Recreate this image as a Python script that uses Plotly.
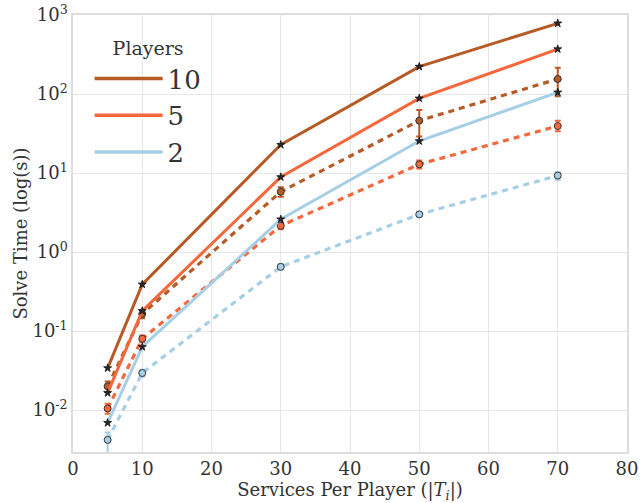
import plotly.graph_objects as go

services = [5, 10, 30, 50, 70]
players = ["10", "5", "2"]
colors = {"10": "#b65a26", "5": "#f4683c", "2": "#a6cfe6"}

# Solid lines (star markers)
solid = {
    "10": [0.034, 0.39, 22.8, 222, 785],
    "5": [0.0165, 0.18, 8.9, 88, 370],
    "2": [0.0069, 0.063, 2.6, 25.4, 105],
}
# Dashed lines (circle markers with error bars)
dashed = {
    "10": [0.020, 0.165, 5.8, 46, 155],
    "5": [0.0105, 0.080, 2.15, 12.9, 39.4],
    "2": [0.0042, 0.0295, 0.65, 3.0, 9.3],
}
err_plus = {
    "10": [0.003, 0.02, 0.8, 17, 60],
    "5": [0.0015, 0.008, 0.2, 1.5, 6.5],
    "2": [0.001, 0.003, 0.05, 0.2, 0.9],
}
err_minus = {
    "10": [0.003, 0.02, 0.8, 17, 61],
    "5": [0.0015, 0.008, 0.2, 1.5, 5.5],
    "2": [0.003, 0.003, 0.05, 0.2, 1.1],
}

ytick_vals = [1e-2, 1e-1, 1e0, 1e1, 1e2, 1e3]
ytick_text = ["10<sup>-2</sup>", "10<sup>-1</sup>", "10<sup>0</sup>",
              "10<sup>1</sup>", "10<sup>2</sup>", "10<sup>3</sup>"]
xtick_vals = [0, 10, 20, 30, 40, 50, 60, 70, 80]

FONT = "DejaVu Serif"
fig = go.Figure()

for p in players:
    fig.add_trace(go.Scatter(
        x=services, y=dashed[p], mode="lines+markers",
        line=dict(color=colors[p], width=3.2, dash="6px,5px"),
        marker=dict(symbol="circle", size=7, color=colors[p],
                    line=dict(color="#333333", width=1)),
        error_y=dict(type="data", symmetric=False, array=err_plus[p],
                     arrayminus=err_minus[p], color=colors[p],
                     thickness=2, width=3),
        showlegend=False,
    ))

for p in players:
    fig.add_trace(go.Scatter(
        x=services, y=solid[p], mode="lines+markers", name=p,
        line=dict(color=colors[p], width=3),
        marker=dict(symbol="star", size=6, color="#2a2a2a",
                    line=dict(color="#111111", width=0.8)),
        showlegend=False,
    ))

# legend-only line entries
for p in players:
    fig.add_trace(go.Scatter(
        x=[None], y=[None], mode="lines", name=p,
        line=dict(color=colors[p], width=3.5),
    ))

fig.update_layout(
    width=640, height=503, autosize=False,
    margin=dict(l=73, r=13, t=15, b=51),
    paper_bgcolor="white", plot_bgcolor="white",
    font=dict(family=FONT, size=18, color="#333333"),
    legend=dict(
        x=0.03, y=0.965, xanchor="left", yanchor="top",
        bgcolor="rgba(0,0,0,0)",
        font=dict(size=26, color="#333333"),
        title=dict(text="Players", side="top center", font=dict(size=19)),
        itemwidth=68, tracegroupgap=0,
    ),
)
fig.update_xaxes(
    range=[0, 80], tickvals=xtick_vals, automargin=False,
    title=dict(text="Services Per Player (|<i>T</i><sub><i>i</i></sub>|)",
               font=dict(size=18), standoff=0),
    showgrid=True, gridcolor="#e6e6e6", gridwidth=1,
    showline=True, linecolor="#dddddd", linewidth=1.5, mirror=True,
    ticks="", zeroline=False, tickfont=dict(size=18),
)
fig.update_yaxes(
    type="log", range=[-2.53, 3], automargin=False,
    tickvals=ytick_vals, ticktext=ytick_text,
    title=dict(text="Solve Time (log(s))", font=dict(size=18), standoff=0),
    showgrid=True, gridcolor="#e6e6e6", gridwidth=1,
    showline=True, linecolor="#dddddd", linewidth=1.5, mirror=True,
    ticks="", zeroline=False, tickfont=dict(size=18),
)

fig.write_html("out.html", config={"displayModeBar": False},
               post_script="document.body.style.margin='0px';")
